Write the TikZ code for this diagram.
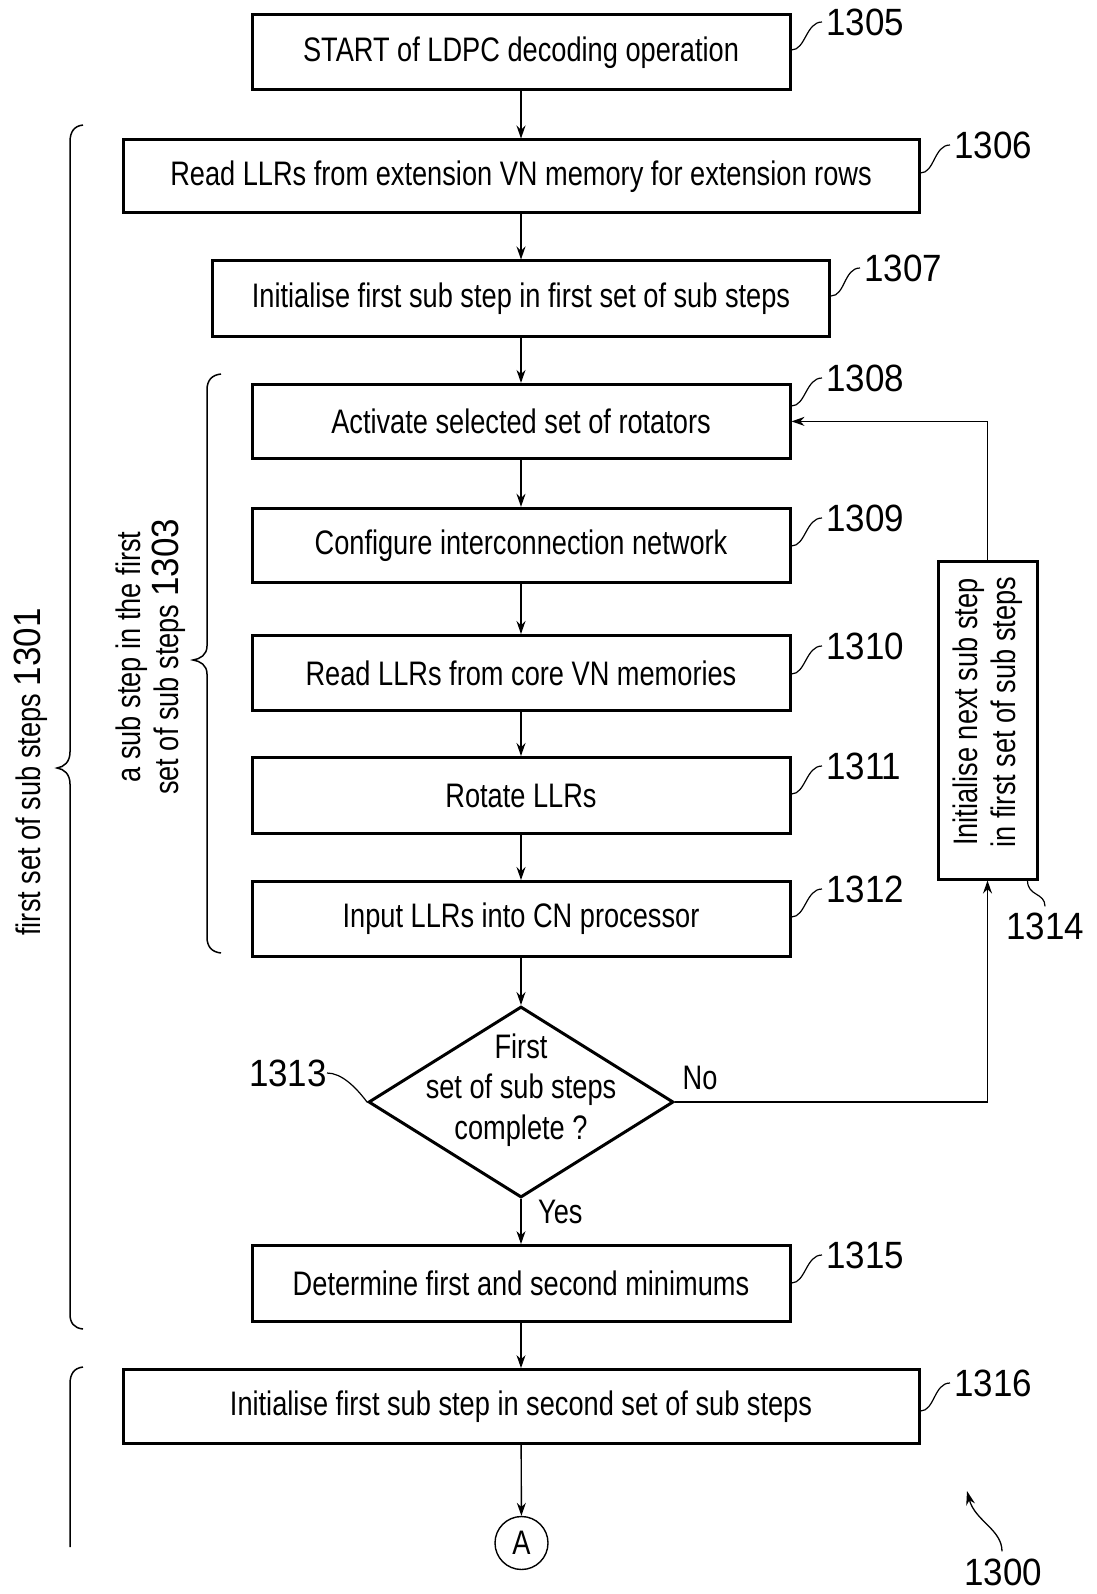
\documentclass[tikz,border=0pt]{standalone}
\usepackage{fontspec}
\setmainfont{Liberation Sans}[FakeStretch=0.8]
\newfontfamily\lblfont{Liberation Sans}[FakeStretch=0.92]
\usetikzlibrary{arrows.meta,shapes.geometric,calc}
\newcommand{\numf}{\lblfont\fontsize{38}{40}\selectfont}
\newcommand{\sqg}[2]{\draw[squig] let \p1=(#1.east), \p2=(#2.west) in
  (\x1,\y2-28pt) .. controls (\x1+14pt,\y2-28pt) and (\x2-20pt,\y2) .. (\x2-4pt,\y2);}
\tikzset{
  stepbox/.style={draw, line width=3pt, inner sep=0pt, font=\fontsize{34}{40}\selectfont},
  flow/.style={line width=1.4pt, -{Stealth[length=13pt,width=9pt]}},
  squig/.style={line width=1.2pt},
  lbl/.style={font=\numf, inner sep=0pt, anchor=west},
  brace/.style={line width=1.5pt},
  txt/.style={font=\fontsize{34}{38}\selectfont, inner sep=0pt}
}
\begin{document}
\begin{tikzpicture}[x=1pt,y=-1pt]
\useasboundingbox (0,0) rectangle (1096,1594);
% boxes
\node[stepbox, minimum width=538pt, minimum height=75pt] (b1305) at (521,52.5) {START of LDPC decoding operation};
\node[stepbox, minimum width=796pt, minimum height=73pt] (b1306) at (521,176.5) {Read LLRs from extension VN memory for extension rows};
\node[stepbox, minimum width=617pt, minimum height=75pt] (b1307) at (521,298.5) {Initialise first sub step in first set of sub steps};
\node[stepbox, minimum width=538pt, minimum height=74pt] (b1308) at (521,421.4) {Activate selected set of rotators};
\node[stepbox, minimum width=538pt, minimum height=74pt] (b1309) at (521,545.3) {Configure interconnection network};
\node[stepbox, minimum width=538pt, minimum height=75pt] (b1310) at (521,673) {Read LLRs from core VN memories};
\node[stepbox, minimum width=538pt, minimum height=76pt] (b1311) at (521,795.5) {Rotate LLRs};
\node[stepbox, minimum width=538pt, minimum height=75pt] (b1312) at (521,919) {Input LLRs into CN processor};
\node[draw, diamond, line width=3pt, minimum width=305pt, minimum height=191pt, inner sep=0pt] (d1313) at (521,1102) {};
\node[txt, align=center, font=\fontsize{34}{40.5}\selectfont] (t1313) at (521,1090) {First\\set of sub steps\\complete ?};
\node[stepbox, minimum width=99pt, minimum height=318pt] (b1314) at (987.5,720) {};
\node[txt, rotate=90, align=center] (t1314) at (987.5,712) {Initialise next sub step\\in first set of sub steps};
\node[stepbox, minimum width=538pt, minimum height=76pt] (b1315) at (521,1283.6) {Determine first and second minimums};
\node[stepbox, minimum width=796pt, minimum height=74pt] (b1316) at (521,1406.6) {Initialise first sub step in second set of sub steps};
\node[circle, draw, line width=1.4pt, minimum size=53pt, inner sep=0pt, font=\fontsize{34}{40}\selectfont] (cA) at (521.5,1543) {A};
% connectors
\draw[flow] (b1305) -- (b1306);
\draw[flow] (b1306) -- (b1307);
\draw[flow] (b1307) -- (b1308);
\draw[flow] (b1308) -- (b1309);
\draw[flow] (b1309) -- (b1310);
\draw[flow] (b1310) -- (b1311);
\draw[flow] (b1311) -- (b1312);
\draw[flow] (b1312.south) -- (d1313.north);
\draw[flow] (d1313.south) -- (b1315.north);
\draw[flow] (d1313.east) -| (b1314.south);
\draw[flow] (b1314.north) |- (b1308.east);
\draw[flow] (b1315) -- (b1316);
\draw[flow] (b1316) -- (cA);
\node[txt, font=\fontsize{34}{40}\selectfont] (no) at (700,1078) {No};
\node[txt, anchor=west, font=\fontsize{34}{40}\selectfont] (yes) at (538,1212) {Yes};
% reference labels
\node[lbl] (l1305) at (826,22) {1305};
\node[lbl] (l1306) at (954,145) {1306};
\node[lbl] (l1307) at (864,268) {1307};
\node[lbl] (l1308) at (826,378) {1308};
\node[lbl] (l1309) at (826,518) {1309};
\node[lbl] (l1310) at (826,646) {1310};
\node[lbl] (l1311) at (826,766) {1311};
\node[lbl] (l1312) at (826,889) {1312};
\node[lbl] (l1315) at (826,1255) {1315};
\node[lbl] (l1316) at (954,1383) {1316};
\sqg{b1305}{l1305}
\sqg{b1306}{l1306}
\sqg{b1307}{l1307}
\sqg{b1308}{l1308}
\sqg{b1309}{l1309}
\sqg{b1310}{l1310}
\sqg{b1311}{l1311}
\sqg{b1312}{l1312}
\sqg{b1315}{l1315}
\sqg{b1316}{l1316}
\node[lbl, anchor=east] (l1313) at (327,1073) {1313};
\draw[squig] (l1313.east) .. controls +(14,0) and +(-12,-16) .. (d1313.west);
\node[lbl, anchor=center] (l1314) at (1045,926) {1314};
\draw[squig] ($(b1314.south east)+(-11,0)$) .. controls +(0,16) and +(0,-14) .. ($(l1314.north)+(0,-6)$);
\node[lbl, anchor=center] (l1300) at (1003,1572) {1300};
\coordinate (c1300) at (967,1491);
\draw[line width=1.3pt, -{Stealth[length=14pt,width=9pt]}] ($(l1300.north)+(-1,-7)$) .. controls +(0,-22) and +(8,30) .. (c1300);
% braces
\draw[brace] (83,125) .. controls (74,126) and (70,132) .. (70,142) -- (70,752)
  .. controls (70,762) and (64,767) .. (57,768) .. controls (64,769) and (70,774) .. (70,784)
  -- (70,1314) .. controls (70,1323) and (74,1328) .. (83,1329);
\draw[brace] (221,374) .. controls (212,375) and (207,380) .. (207,390) -- (207,646)
  .. controls (207,655) and (200,659) .. (193,660) .. controls (200,661) and (207,665) .. (207,674)
  -- (207,937) .. controls (207,947) and (212,952) .. (221,953);
\draw[brace] (83,1367) .. controls (74,1368) and (70,1374) .. (70,1384) -- (70,1547);
\node[txt, rotate=90] (t1301) at (31,772) {first set of sub steps {\numf 1301}};
\node[txt, rotate=90, align=center] (t1303) at (151,657) {a sub step in the first\\set of sub steps {\numf 1303}};
\end{tikzpicture}
\end{document}
